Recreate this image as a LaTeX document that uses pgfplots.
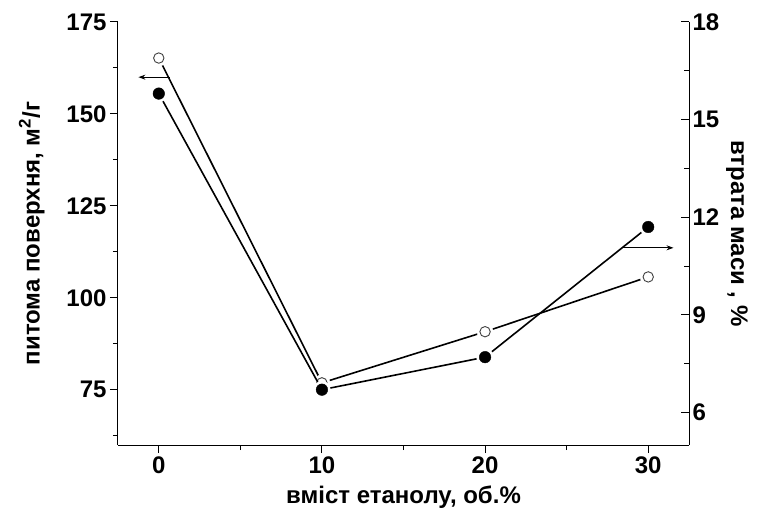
\documentclass[border=0pt]{standalone}
\usepackage{fontspec}
\setmainfont{Liberation Sans}
\usepackage{pgfplots}
\pgfplotsset{compat=1.18}
\usetikzlibrary{arrows.meta}

\pgfplotstableread{
x y
0 165.2
10 76.9
20 90.8
30 105.7
}\openS
\pgfplotstableread{
x y
0 15.8
10 6.7
20 7.7
30 11.7
}\filledS

\pgfplotsset{
  base/.style={
    scale only axis, width=571pt, height=423pt,
    at={(0,0)}, anchor=south west,
    xmin=-2.5, xmax=32.5,
    xtick={0,10,20,30}, minor xtick={5,15,25},
    major tick length=8pt, minor tick length=5pt,
    every tick/.style={black, line width=1pt},
    axis line style={line width=1pt},
    /pgf/number format/assume math mode=true,
    tick label style={font=\bfseries\fontsize{24}{28}\selectfont},
    label style={font=\bfseries\fontsize{24}{28}\selectfont},
    clip=false,
  },
}

\begin{document}
\begin{tikzpicture}
\path[use as bounding box] (-118pt,-72pt) rectangle (647pt,445pt);
\begin{axis}[base,
  axis x line*=bottom, axis y line*=left,
  ymin=60, ymax=175,
  ytick={75,100,125,150,175}, minor ytick={62.5,87.5,112.5,137.5,162.5},
  tick align=outside,
  xlabel={вміст етанолу, об.\%},
  xlabel style={yshift=-5pt},
  ylabel={питома поверхня, м\textsuperscript{2}/г},
  ylabel style={yshift=15pt}]
\addplot[black, line width=1.6pt, mark=none] table[x=x,y=y]{\openS};
\addplot[white, only marks, mark=*, mark size=8pt] table[x=x,y=y]{\openS};
\addplot[only marks, mark=*, mark size=5.2pt, mark options={draw=black!75, fill=white, line width=0.9pt}] table[x=x,y=y]{\openS};
\draw[-{Stealth[length=7pt,width=5pt]}, line width=1pt] (axis cs:0.67,160) -- (axis cs:-1.25,160);
\end{axis}
\begin{axis}[base,
  axis x line=none, axis y line*=right,
  ymin=5, ymax=18,
  ytick={6,9,12,15,18}, minor ytick={7.5,10.5,13.5,16.5},
  tick align=inside,
  ylabel={втрата маси , \%}, ylabel style={rotate=180}]
\addplot[black, line width=1.6pt, mark=none] table[x=x,y=y]{\filledS};
\addplot[white, only marks, mark=*, mark size=8.5pt] table[x=x,y=y]{\filledS};
\addplot[only marks, mark=*, mark size=5.8pt, mark options={draw=black, fill=black}] table[x=x,y=y]{\filledS};
\draw[-{Stealth[length=7pt,width=5pt]}, line width=1pt] (axis cs:28.47,11.06) -- (axis cs:31.55,11.06);
\end{axis}
\end{tikzpicture}
\end{document}
